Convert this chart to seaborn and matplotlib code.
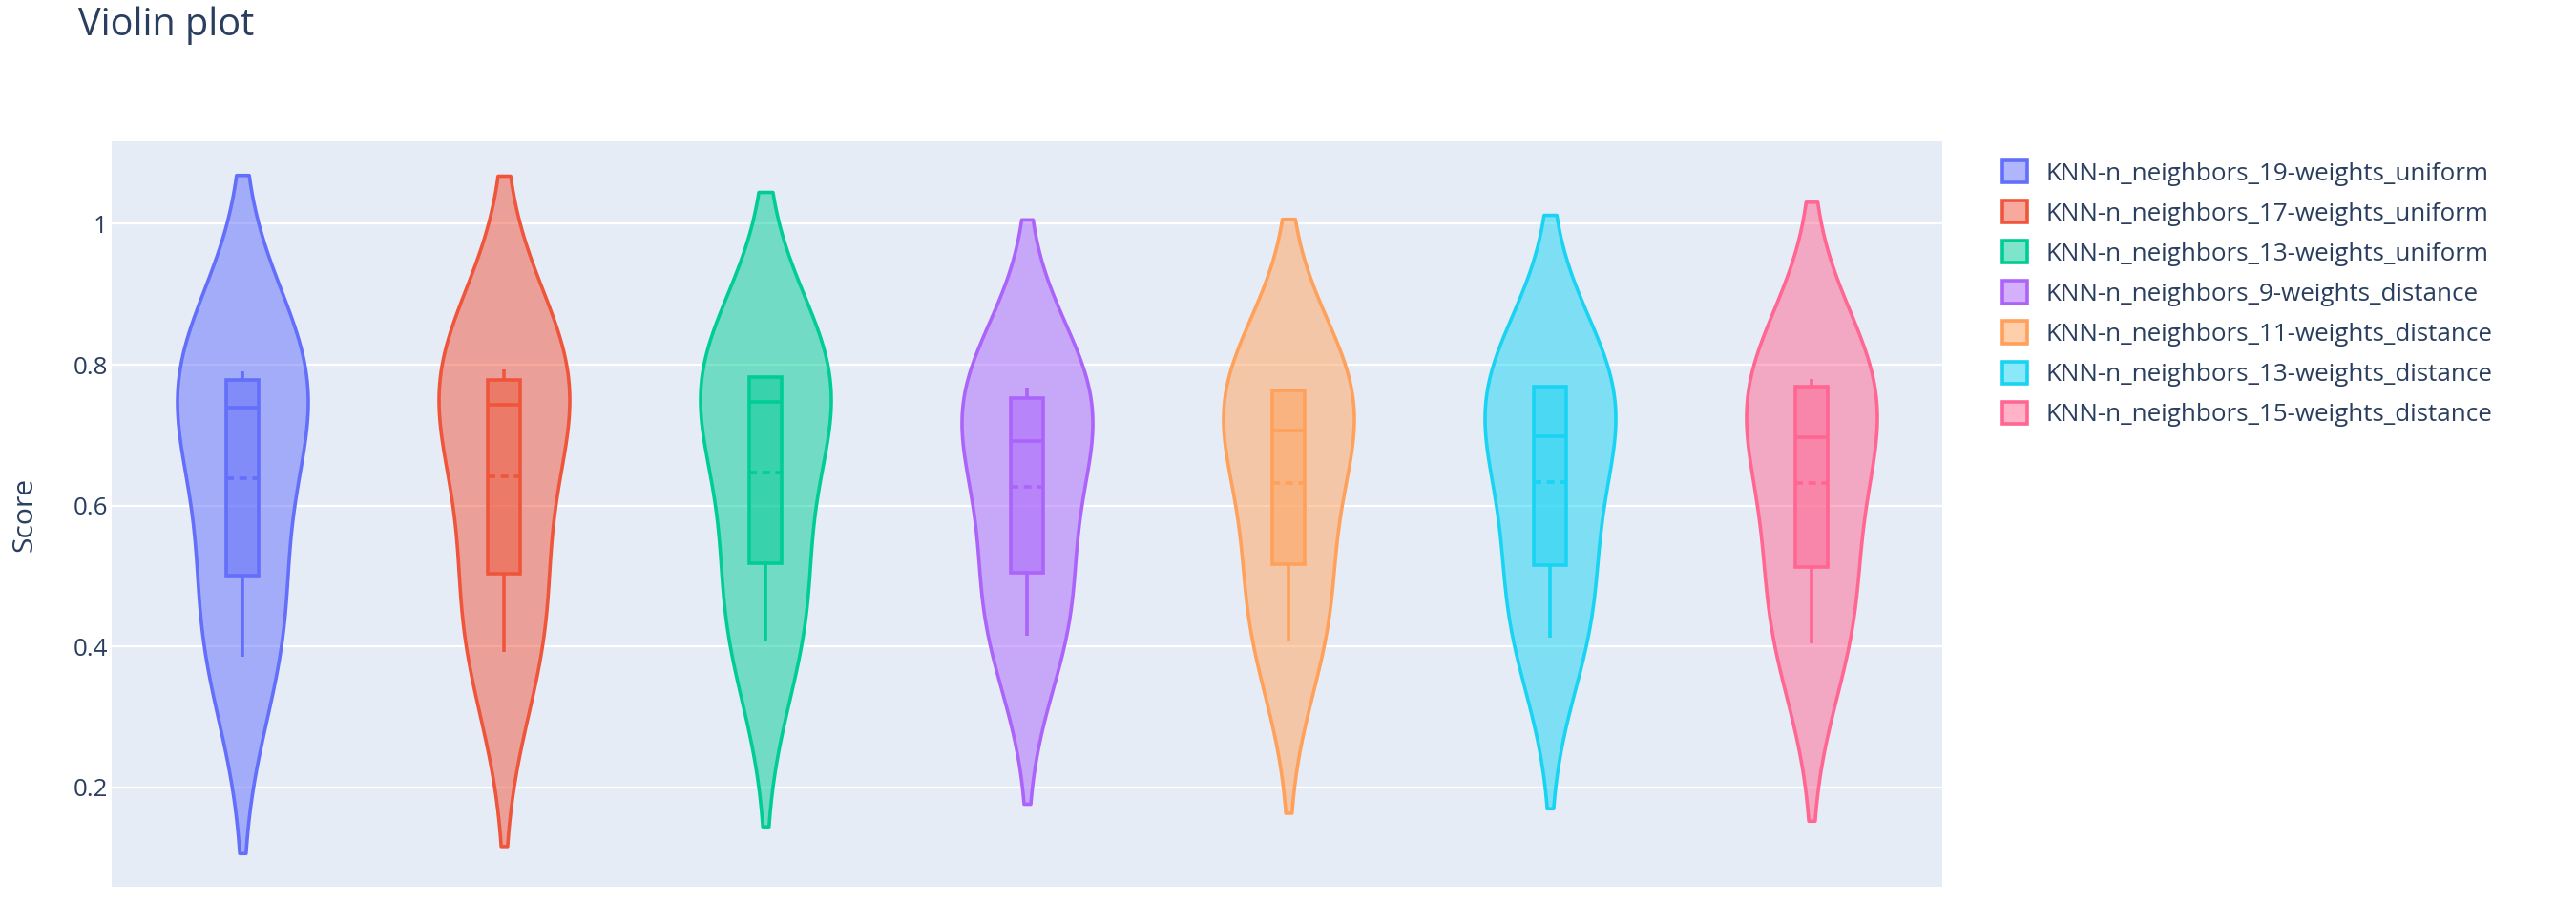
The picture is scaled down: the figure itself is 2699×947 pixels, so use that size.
import matplotlib
matplotlib.use('Agg')
import matplotlib.pyplot as plt
import matplotlib.colors as mcolors
import matplotlib.patches as mpatches
import numpy as np
import pandas as pd
import seaborn as sns

models = [
    'KNN-n_neighbors_19-weights_uniform',
    'KNN-n_neighbors_17-weights_uniform',
    'KNN-n_neighbors_13-weights_uniform',
    'KNN-n_neighbors_9-weights_distance',
    'KNN-n_neighbors_11-weights_distance',
    'KNN-n_neighbors_13-weights_distance',
    'KNN-n_neighbors_15-weights_distance',
]
colors = ['#636EFA', '#EF553B', '#00CC96', '#AB63FA', '#FFA15A', '#19D3F3', '#FF6692']

scores_19_uniform = [0.385, 0.500, 0.739, 0.778, 0.791]
scores_17_uniform = [0.392, 0.503, 0.743, 0.778, 0.793]
scores_13_uniform = [0.407, 0.518, 0.747, 0.782, 0.783]
scores_9_distance = [0.415, 0.505, 0.692, 0.753, 0.768]
scores_11_distance = [0.407, 0.517, 0.706, 0.763, 0.764]
scores_13_distance = [0.413, 0.516, 0.698, 0.769, 0.770]
scores_15_distance = [0.404, 0.513, 0.697, 0.769, 0.780]

ytick_values = [0.2, 0.4, 0.6, 0.8, 1.0]
ytick_labels = ['0.2', '0.4', '0.6', '0.8', '1']

all_scores = [scores_19_uniform, scores_17_uniform, scores_13_uniform,
              scores_9_distance, scores_11_distance, scores_13_distance,
              scores_15_distance]
df = pd.DataFrame({
    'model': np.repeat(models, [len(s) for s in all_scores]),
    'score': np.concatenate(all_scores),
})

# ---- style ----
sns.set_style("white")
plt.rcParams['font.family'] = ['Open Sans', 'DejaVu Sans']
text_color = '#2a3f5f'
lw = 2.6

W, H = 2699, 947
fig = plt.figure(figsize=(W / 100, H / 100), dpi=100)
ax = fig.add_axes([117 / W, 1 - 929 / H, (2035 - 117) / W, (929 - 148) / H])
ax.set_facecolor('#E5ECF6')

# violins
sns.violinplot(data=df, x='model', y='score', hue='model', order=models,
               hue_order=models, palette=colors, saturation=1, width=0.5,
               density_norm='width', bw_adjust=1.04, cut=2, inner=None,
               linewidth=lw, legend=False, ax=ax)
for coll, c in zip(ax.collections, colors):
    coll.set_facecolor(mcolors.to_rgba(c, 0.5))
    coll.set_edgecolor(c)
    coll.set_linewidth(lw)

# boxes inside the violins
for name, c in zip(models, colors):
    sub = df[df['model'] == name]
    sns.boxplot(data=sub, x='model', y='score', order=models, width=0.125,
                color=c, linecolor=c, saturation=1, linewidth=lw,
                showcaps=False, showfliers=False, showmeans=True, meanline=True,
                boxprops=dict(facecolor=mcolors.to_rgba(c, 0.5), edgecolor=c),
                meanprops=dict(color=c, linestyle=(0, (2.2, 1.6)), linewidth=lw),
                ax=ax)

# axes
ax.set_xlim(-0.5, len(models) - 0.5)
ax.set_ylim(0.059, 1.117)
ax.set_xticks([])
ax.set_xlabel('')
ax.set_yticks(ytick_values)
ax.set_yticklabels(ytick_labels)
ax.tick_params(axis='y', length=0, pad=3, labelsize=18.7, labelcolor=text_color)
ax.grid(axis='y', color='white', linewidth=1.6)
ax.set_axisbelow(True)
for s in ax.spines.values():
    s.set_visible(False)
ax.set_ylabel('Score', fontsize=21.7, color=text_color)
ax.yaxis.set_label_coords(-0.040, 0.5)

fig.text(82 / W, 1 - 37 / H, 'Violin plot', fontsize=28.5, color=text_color,
         ha='left', va='baseline')

# legend
handles = [mpatches.Patch(facecolor=mcolors.to_rgba(c, 0.5), edgecolor=c, linewidth=lw)
           for c in colors]
fig.legend(handles, models, loc='upper left', bbox_to_anchor=(2098 / W, 1 - 168 / H),
           frameon=False, fontsize=18.7, handlelength=1.0, handleheight=1.0,
           handletextpad=0.75, labelspacing=0.6, borderpad=0, borderaxespad=0,
           labelcolor=text_color)

fig.savefig('out.png', dpi=100)
